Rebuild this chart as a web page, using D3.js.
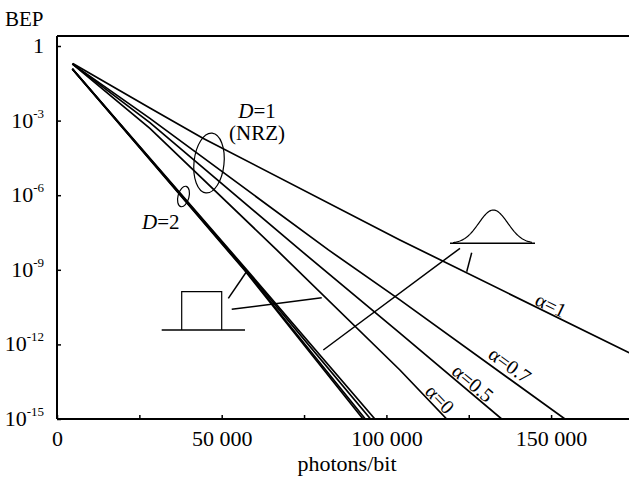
<!DOCTYPE html>
<html><head><meta charset="utf-8">
<script src="https://cdn.jsdelivr.net/npm/d3@7"></script>
<style>
body{margin:0;background:#fff}
svg{display:block}
text{font-family:"Liberation Serif","Times New Roman",serif;fill:#000}
</style>
</head><body>
<svg id="c" width="629" height="479"></svg>
<script>
// ---------- data (photons/bit, log10 BEP) ----------
const xTickValues = [0, 25000, 50000, 75000, 100000, 125000, 150000];
const xTickLabels = ["0", "", "50 000", "", "100 000", "", "150 000"];
const yTickExponents = [0, -3, -6, -9, -12, -15];

const alpha1Photons  = [4800, 28200, 44300, 104100, 173700];
const alpha1LogBEP   = [-0.70, -2.49, -3.71, -7.80, -12.34];
const alpha07Photons = [4650, 28200, 82400, 104100, 154200];
const alpha07LogBEP  = [-0.72, -2.91, -8.20, -10.21, -15];
const alpha05Photons = [4650, 28200, 73800, 104100, 135000];
const alpha05LogBEP  = [-0.72, -3.08, -8.20, -11.55, -15];
const alpha0Photons  = [4650, 28200, 66700, 104100, 118300];
const alpha0LogBEP   = [-0.72, -3.31, -8.20, -13.03, -15];
const d2aPhotons = [4650, 56800, 92900];
const d2bPhotons = [4650, 57000, 93600];
const d2cPhotons = [4650, 57300, 95200];
const d2dPhotons = [4650, 57600, 96500];
const d2LogBEP   = [-0.92, -9.0, -15];

const series = [
  {p: alpha1Photons,  e: alpha1LogBEP},
  {p: alpha07Photons, e: alpha07LogBEP},
  {p: alpha05Photons, e: alpha05LogBEP},
  {p: alpha0Photons,  e: alpha0LogBEP},
  {p: d2aPhotons, e: d2LogBEP},
  {p: d2bPhotons, e: d2LogBEP},
  {p: d2cPhotons, e: d2LogBEP},
  {p: d2dPhotons, e: d2LogBEP}
];

// ---------- scales ----------
const X0 = 57, PX_PER_50K = 164.7;
const x = d3.scaleLinear().domain([0, 175000]).range([X0, X0 + 175000 * PX_PER_50K / 50000]);
const y = d3.scaleLog().domain([1e-15, 1]).range([419, 46]);
const yTop = y(Math.pow(10, 0.4));

const svg = d3.select("#c");

svg.append("clipPath").attr("id","clip").append("rect")
  .attr("x", X0).attr("y", yTop).attr("width", 629 - X0).attr("height", 419 - yTop);

// ---------- axes ----------
const xAxis = d3.axisBottom(x).tickValues(xTickValues)
  .tickFormat((d,i) => xTickLabels[i]).tickSizeInner(-4).tickSizeOuter(0).tickPadding(11);
const gx = svg.append("g").attr("transform", `translate(0,${y(1e-15)})`).call(xAxis);
gx.select(".domain").remove();
gx.selectAll(".tick line").attr("stroke","#000").attr("stroke-width",1.5);
gx.selectAll(".tick text").attr("font-size", 22);

const yAxis = d3.axisLeft(y).tickValues(yTickExponents.map(e => Math.pow(10, e)))
  .tickFormat(() => "").tickSizeInner(-4).tickSizeOuter(0);
const gy = svg.append("g").attr("transform", `translate(${X0},0)`).call(yAxis);
gy.select(".domain").remove();
gy.selectAll(".tick line").attr("stroke","#000").attr("stroke-width",1.5);
gy.selectAll(".tick text").remove();

yTickExponents.forEach(e => {
  const t = svg.append("text").attr("x", 44).attr("y", y(Math.pow(10, e)) + 7)
    .attr("text-anchor", "end").attr("font-size", 22);
  if (e === 0) { t.text("1"); }
  else {
    t.append("tspan").text("10");
    t.append("tspan").attr("font-size", 13).attr("dy", -10).text("-" + (-e));
  }
});

// frame
svg.append("line").attr("x1", X0).attr("x2", X0).attr("y1", yTop).attr("y2", y(1e-15))
  .attr("stroke","#000").attr("stroke-width",2);
svg.append("line").attr("x1", X0).attr("x2", 629).attr("y1", y(1e-15)).attr("y2", y(1e-15))
  .attr("stroke","#000").attr("stroke-width",2);
svg.append("line").attr("x1", X0).attr("x2", 629).attr("y1", yTop).attr("y2", yTop)
  .attr("stroke","#000").attr("stroke-width",2);

// axis titles
svg.append("text").attr("x", 5).attr("y", 26).attr("font-size", 21).text("BEP");
svg.append("text").attr("x", 347).attr("y", 471).attr("text-anchor","middle").attr("font-size", 22).text("photons/bit");

// ---------- curves ----------
const line = d3.line().x(d => x(d[0])).y(d => y(Math.pow(10, d[1])));
const gl = svg.append("g").attr("clip-path","url(#clip)");
series.forEach(s => {
  gl.append("path").datum(s.p.map((p,i) => [p, s.e[i]]))
    .attr("d", line).attr("fill","none").attr("stroke","#000").attr("stroke-width",1.7);
});

// ---------- annotations ----------
const ann = svg.append("g").attr("stroke","#000").attr("fill","none").attr("stroke-width",1.2);
ann.append("ellipse").attr("cx", 209).attr("cy", 163).attr("rx", 15).attr("ry", 30)
  .attr("transform","rotate(6,209,163)");
ann.append("ellipse").attr("cx", 183.5).attr("cy", 196.5).attr("rx", 5.5).attr("ry", 10.5)
  .attr("transform","rotate(15,183.5,196.5)");

// rectangular pulse icon
ann.append("line").attr("x1",161.7).attr("x2",245).attr("y1",330).attr("y2",330).attr("stroke-width",1.6);
ann.append("polyline").attr("points","181.7,330 181.7,291.7 221.7,291.7 221.7,330");
ann.append("line").attr("x1",228.3).attr("y1",298.3).attr("x2",247).attr("y2",271).attr("stroke-width",1.5);
ann.append("line").attr("x1",231.7).attr("y1",309.3).attr("x2",321.7).attr("y2",297.7).attr("stroke-width",1.5);

// gaussian icon
ann.append("line").attr("x1",450).attr("x2",535).attr("y1",243.3).attr("y2",243.3).attr("stroke-width",1.4);
const bell = d3.range(0, 81).map(i => {
  const u = 453 + i * (532 - 453) / 80;
  return [u, 243.3 - 33.3 * Math.exp(-Math.pow(u - 493.3, 2) / (2 * 14.5 * 14.5))];
});
ann.append("path").attr("d", d3.line()(bell));
ann.append("line").attr("x1",460).attr("y1",248.3).attr("x2",323.3).attr("y2",350).attr("stroke-width",1.5);
ann.append("line").attr("x1",471.7).attr("y1",252.7).attr("x2",466.7).attr("y2",271.7).attr("stroke-width",1.5);

// text labels
const t1 = svg.append("text").attr("x", 257).attr("y", 118).attr("text-anchor","middle").attr("font-size", 21);
t1.append("tspan").attr("font-style","italic").text("D");
t1.append("tspan").text("=1");
svg.append("text").attr("x", 257).attr("y", 140).attr("text-anchor","middle").attr("font-size", 21).text("(NRZ)");
const t2 = svg.append("text").attr("x", 142).attr("y", 229).attr("font-size", 21);
t2.append("tspan").attr("font-style","italic").text("D");
t2.append("tspan").text("=2");

function alphaLabel(txt, cx, cy, ang) {
  svg.append("text").attr("transform", `translate(${cx},${cy}) rotate(${ang})`)
    .attr("text-anchor","middle").attr("dy","0.35em").attr("font-size", 20).text(txt);
}
alphaLabel("α=1", 551, 305, 26);
alphaLabel("α=0.7", 510, 365, 36);
alphaLabel("α=0.5", 473, 383, 40);
alphaLabel("α=0", 440, 399, 46);
</script>
</body></html>
